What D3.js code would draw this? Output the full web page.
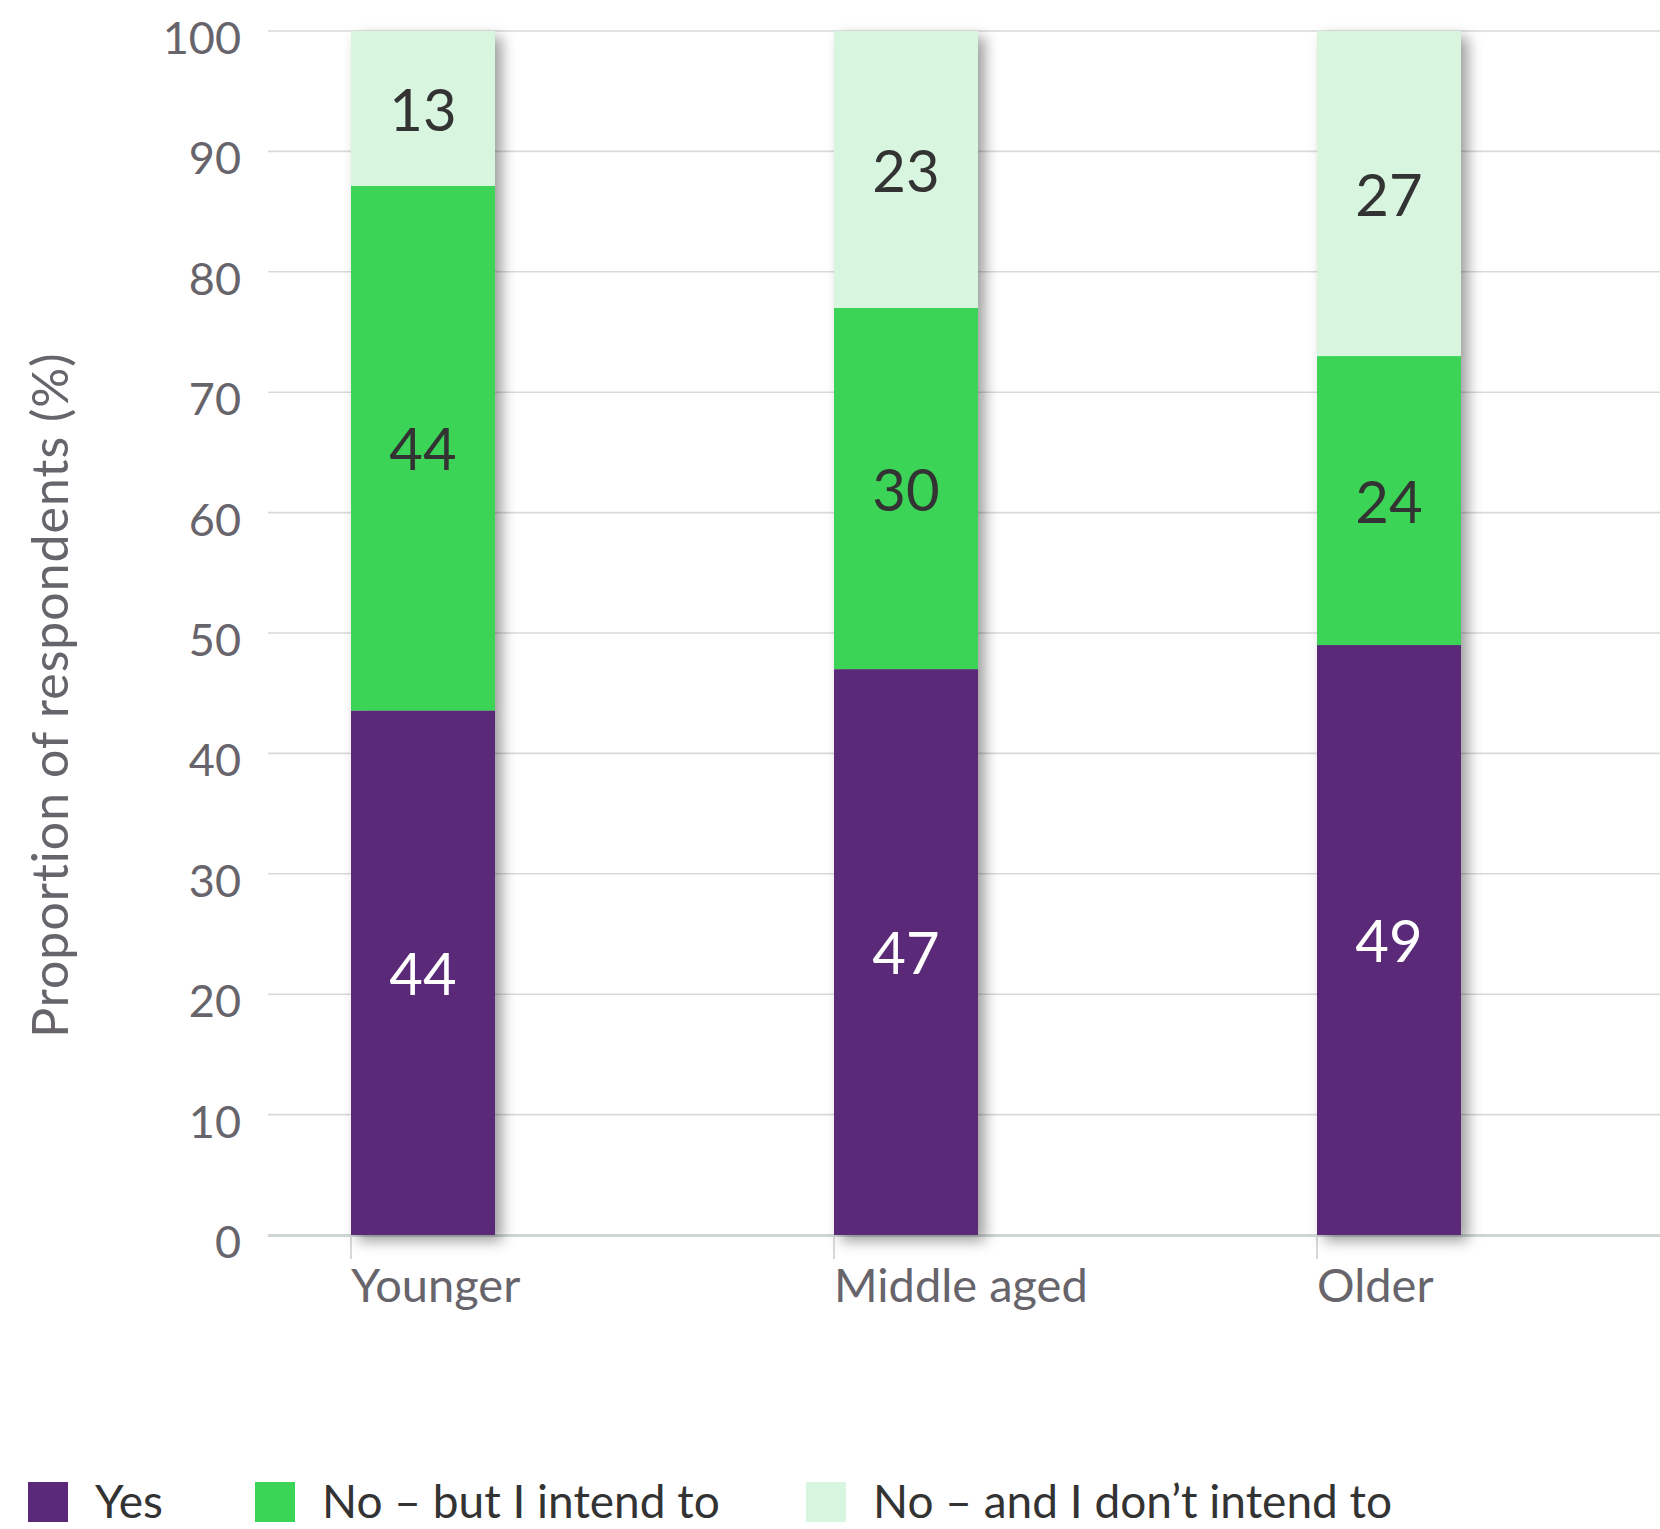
<!DOCTYPE html>
<html>
<head>
<meta charset="utf-8">
<script src="https://cdn.jsdelivr.net/npm/d3@7"></script>
<style>
  html, body { margin: 0; padding: 0; background: #ffffff; }
  svg { display: block; font-family: Lato, "Noto Sans", sans-serif; }
</style>
</head>
<body>
<svg id="chart" width="1660" height="1529"></svg>
<script>
// ---- data ----
const categories = ["Younger", "Middle aged", "Older"];
const seriesNames = ["Yes", "No – but I intend to", "No – and I don’t intend to"];
const yesValues = [44, 47, 49];
const intendValues = [44, 30, 24];
const notIntendValues = [13, 23, 27];
const yTicks = [0, 10, 20, 30, 40, 50, 60, 70, 80, 90, 100];
const yTitle = "Proportion of respondents (%)";
const colors = ["#5a2979", "#3ad457", "#d8f5df"];
const labelColors = ["#ffffff", "#333333", "#333333"];

// ---- build table ----
const keys = ["yes", "intend", "notIntend"];
const table = categories.map((c, i) => ({
  category: c, yes: yesValues[i], intend: intendValues[i], notIntend: notIntendValues[i]
}));
const stacked = d3.stack().keys(keys).offset(d3.stackOffsetExpand)(table);

const svg = d3.select("#chart");

const plotLeft = 268, plotRight = 1660;
const y = d3.scaleLinear().domain([0, 1]).range([1235, 31]);
const yPct = d3.scaleLinear().domain([0, 100]).range([1235, 31]);
const x = d3.scaleBand().domain(categories).range([351, 1461]).paddingInner(0.7019).paddingOuter(0);

// shadow filter
const defs = svg.append("defs");
const f = defs.append("filter").attr("id", "shadow")
  .attr("x", "-30%").attr("y", "-10%").attr("width", "180%").attr("height", "120%");
f.append("feDropShadow").attr("dx", 7).attr("dy", 6).attr("stdDeviation", 7)
  .attr("flood-color", "#000").attr("flood-opacity", 0.38);

// gridlines
svg.append("g").selectAll("line")
  .data(yTicks.filter(t => t > 0))
  .join("line")
  .attr("x1", plotLeft).attr("x2", plotRight)
  .attr("y1", d => yPct(d)).attr("y2", d => yPct(d))
  .attr("stroke", "#d9d9d9").attr("stroke-width", 1.6);

// y axis labels
const yAxis = d3.axisLeft(yPct).tickValues(yTicks).tickSize(0).tickPadding(27).tickFormat(d3.format("d"));
const yg = svg.append("g").attr("transform", `translate(${plotLeft},0)`).call(yAxis);
yg.select(".domain").remove();
yg.selectAll("text")
  .attr("font-size", 45).attr("fill", "#67646b").attr("dy", "0.5em")
  .style("font-family", "Lato, 'Noto Sans', sans-serif");

// x baseline
svg.append("line")
  .attr("x1", plotLeft).attr("x2", plotRight)
  .attr("y1", yPct(0) + 0.5).attr("y2", yPct(0) + 0.5)
  .attr("stroke", "#cfd5d5").attr("stroke-width", 3);

// x ticks + labels
const xg = svg.append("g");
xg.selectAll("line").data(categories).join("line")
  .attr("x1", d => x(d)).attr("x2", d => x(d))
  .attr("y1", yPct(0) + 2).attr("y2", yPct(0) + 24)
  .attr("stroke", "#cccccc").attr("stroke-width", 1.5);
xg.selectAll("text").data(categories).join("text")
  .attr("x", d => x(d)).attr("y", 1302)
  .attr("font-size", 47).attr("fill", "#67646b")
  .text(d => d);

// bars (one group per category so the shadow is cast by the whole column)
const columns = svg.append("g").selectAll("g")
  .data(categories).join("g")
  .attr("filter", "url(#shadow)");
columns.each(function(cat, ci) {
  const g = d3.select(this);
  stacked.forEach((layer, li) => {
    const d = layer[ci];
    g.append("rect")
      .attr("x", x(cat))
      .attr("width", x.bandwidth())
      .attr("y", y(d[1]))
      .attr("height", y(d[0]) - y(d[1]))
      .attr("fill", colors[li]);
  });
});

// value labels
const lab = svg.append("g");
stacked.forEach((layer, li) => {
  layer.forEach((d, ci) => {
    lab.append("text")
      .attr("x", x(categories[ci]) + x.bandwidth() / 2)
      .attr("y", y((d[0] + d[1]) / 2))
      .attr("dy", "0.38em")
      .attr("text-anchor", "middle")
      .attr("font-size", 58)
      .attr("fill", labelColors[li])
      .text(d.data[keys[li]]);
  });
});

// y title
svg.append("text")
  .attr("transform", `translate(68, 695) rotate(-90)`)
  .attr("text-anchor", "middle")
  .attr("font-size", 50)
  .attr("letter-spacing", 1)
  .attr("fill", "#67646b")
  .text(yTitle);

// legend
const legendX = [28, 255, 806];
const leg = svg.append("g");
seriesNames.forEach((name, i) => {
  leg.append("rect").attr("x", legendX[i]).attr("y", 1482).attr("width", 40).attr("height", 40)
    .attr("fill", colors[i]);
  leg.append("text").attr("x", legendX[i] + 67).attr("y", 1518)
    .attr("font-size", 46).attr("fill", "#333333").text(name);
});
</script>
</body>
</html>
